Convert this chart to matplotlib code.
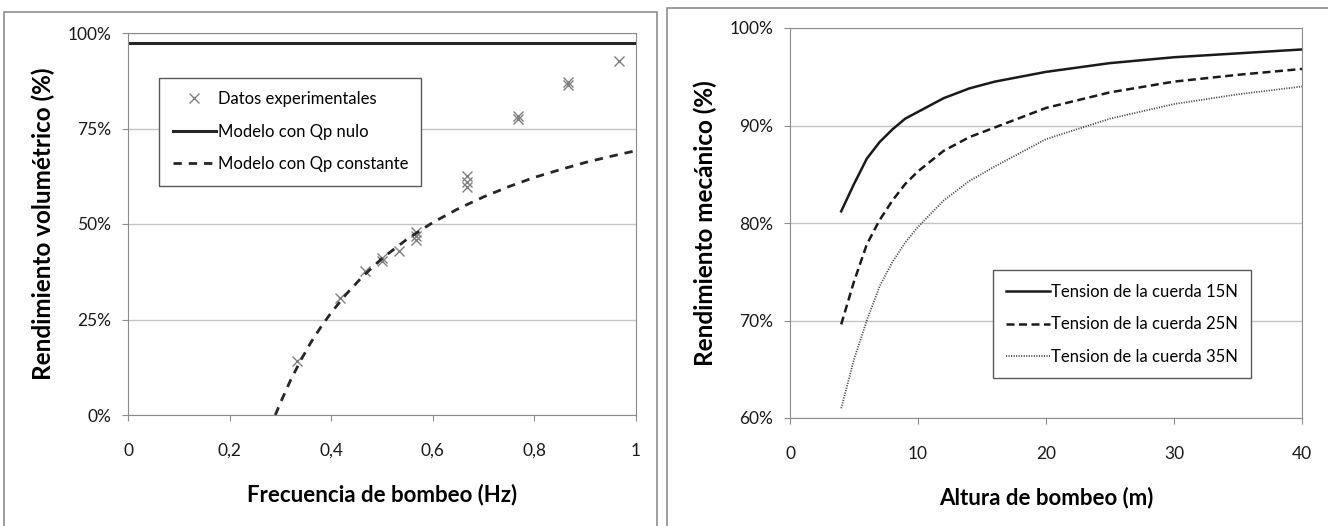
import matplotlib
matplotlib.use("Agg")
import matplotlib.pyplot as plt
from matplotlib.patches import Rectangle
from matplotlib.ticker import FuncFormatter

plt.rcParams['font.family'] = ['Lato', 'DejaVu Sans']

# --- panel izquierdo: rendimiento volumetrico ---
frec_exp = [0.333, 0.417, 0.467, 0.5, 0.5, 0.533, 0.567, 0.567, 0.567,
            0.667, 0.667, 0.667, 0.767, 0.767, 0.867, 0.867, 0.967]
rend_exp = [0.141, 0.307, 0.376, 0.404, 0.412, 0.430, 0.457, 0.468, 0.478,
            0.596, 0.610, 0.626, 0.775, 0.783, 0.865, 0.872, 0.926]
qp_nulo_x = [0, 1]
qp_nulo_y = [0.975, 0.975]
qp_cte_x = [0.29, 0.30, 0.32, 0.34, 0.36, 0.38, 0.40, 0.43, 0.46, 0.50,
            0.55, 0.60, 0.65, 0.70, 0.75, 0.80, 0.85, 0.90, 0.95, 1.00]
qp_cte_y = [0.0, 0.032, 0.091, 0.143, 0.190, 0.231, 0.268, 0.317, 0.360, 0.410,
            0.461, 0.504, 0.540, 0.571, 0.598, 0.622, 0.642, 0.661, 0.677, 0.692]

# --- panel derecho: rendimiento mecanico ---
altura = [4, 5, 6, 7, 8, 9, 10, 12, 14, 16, 20, 25, 30, 35, 40]
tension_15 = [0.812, 0.840, 0.866, 0.883, 0.896, 0.907, 0.914, 0.928, 0.938, 0.945,
              0.955, 0.964, 0.970, 0.974, 0.978]
tension_25 = [0.696, 0.740, 0.778, 0.803, 0.823, 0.840, 0.853, 0.874, 0.888, 0.898,
              0.918, 0.934, 0.945, 0.952, 0.958]
tension_35 = [0.610, 0.660, 0.700, 0.735, 0.760, 0.780, 0.796, 0.823, 0.843, 0.858,
              0.886, 0.907, 0.922, 0.932, 0.940]

W, H = 1328, 526
fig = plt.figure(figsize=(W / 100, H / 100), dpi=100)

# marcos de los dos graficos
for x0, y0, x1 in [(4, 12, 657), (667, 8, 1335)]:
    fig.patches.append(Rectangle((x0 / W, -0.05), (x1 - x0) / W, 1.05 - y0 / H,
                                 transform=fig.transFigure, fill=False,
                                 edgecolor='#8c8c8c', linewidth=1.2))

ax1 = fig.add_axes([128 / W, 1 - 415 / H, (636 - 128) / W, (415 - 33) / H])
ax2 = fig.add_axes([790 / W, 1 - 418 / H, (1302 - 790) / W, (418 - 28) / H])

pct = FuncFormatter(lambda v, p: '%d%%' % round(v * 100))
coma = FuncFormatter(lambda v, p: ('%g' % v).replace('.', ','))

for ax in (ax1, ax2):
    ax.grid(axis='y', color='#c4c4c4', linewidth=1.0)
    ax.set_axisbelow(True)
    for s in ax.spines.values():
        s.set_color('#8c8c8c')
    ax.tick_params(colors='#8c8c8c', labelcolor='#1a1a1a', labelsize=12.5,
                   length=4, direction='out')
    ax.tick_params(axis='x', pad=16)
    ax.tick_params(axis='y', pad=8)
    ax.yaxis.set_major_formatter(pct)

ax1.plot(frec_exp, rend_exp, 'x', color='#7f7f7f', markersize=7.5, mew=1.0,
         label='Datos experimentales')
ax1.plot(qp_nulo_x, qp_nulo_y, '-', color='#262626', lw=2.2, label='Modelo con Qp nulo')
ax1.plot(qp_cte_x, qp_cte_y, '--', color='#262626', lw=2.0, dashes=(3, 2.5),
         label='Modelo con Qp constante')
ax1.set_xlim(0, 1)
ax1.set_ylim(0, 1)
ax1.set_xticks([0, 0.2, 0.4, 0.6, 0.8, 1])
ax1.set_yticks([0, 0.25, 0.5, 0.75, 1])
ax1.xaxis.set_major_formatter(coma)
ax1.set_xlabel('Frecuencia de bombeo (Hz)', fontsize=16, fontweight='bold', labelpad=18)
ax1.set_ylabel('Rendimiento volumétrico (%)', fontsize=17.5, fontweight='bold', labelpad=9)
leg1 = ax1.legend(loc='upper left', bbox_to_anchor=(0.045, 0.905), fontsize=12,
                  fancybox=False, edgecolor='#595959', framealpha=1,
                  handlelength=2.6, handletextpad=0.1, labelspacing=1.0,
                  borderpad=0.8)
leg1.get_frame().set_linewidth(1.0)

ax2.plot(altura, tension_15, '-', color='#1a1a1a', lw=1.8, label='Tension de la cuerda 15N')
ax2.plot(altura, tension_25, '--', color='#1a1a1a', lw=1.8, dashes=(3.2, 1.8),
         label='Tension de la cuerda 25N')
ax2.plot(altura, tension_35, ':', color='#404040', lw=1.3, dashes=(0.6, 0.8),
         label='Tension de la cuerda 35N')
ax2.set_xlim(0, 40)
ax2.set_ylim(0.6, 1.0)
ax2.set_xticks([0, 10, 20, 30, 40])
ax2.set_yticks([0.6, 0.7, 0.8, 0.9, 1.0])
ax2.set_xlabel('Altura de bombeo (m)', fontsize=16, fontweight='bold', labelpad=18)
ax2.set_ylabel('Rendimiento mecánico (%)', fontsize=17.5, fontweight='bold', labelpad=9)
leg2 = ax2.legend(loc='upper left', bbox_to_anchor=(0.38, 0.40), fontsize=12,
                  fancybox=False, edgecolor='#595959', framealpha=1,
                  handlelength=2.6, handletextpad=0.1, labelspacing=1.0,
                  borderpad=0.8)
leg2.get_frame().set_linewidth(1.0)

fig.savefig('out.png', dpi=100)
